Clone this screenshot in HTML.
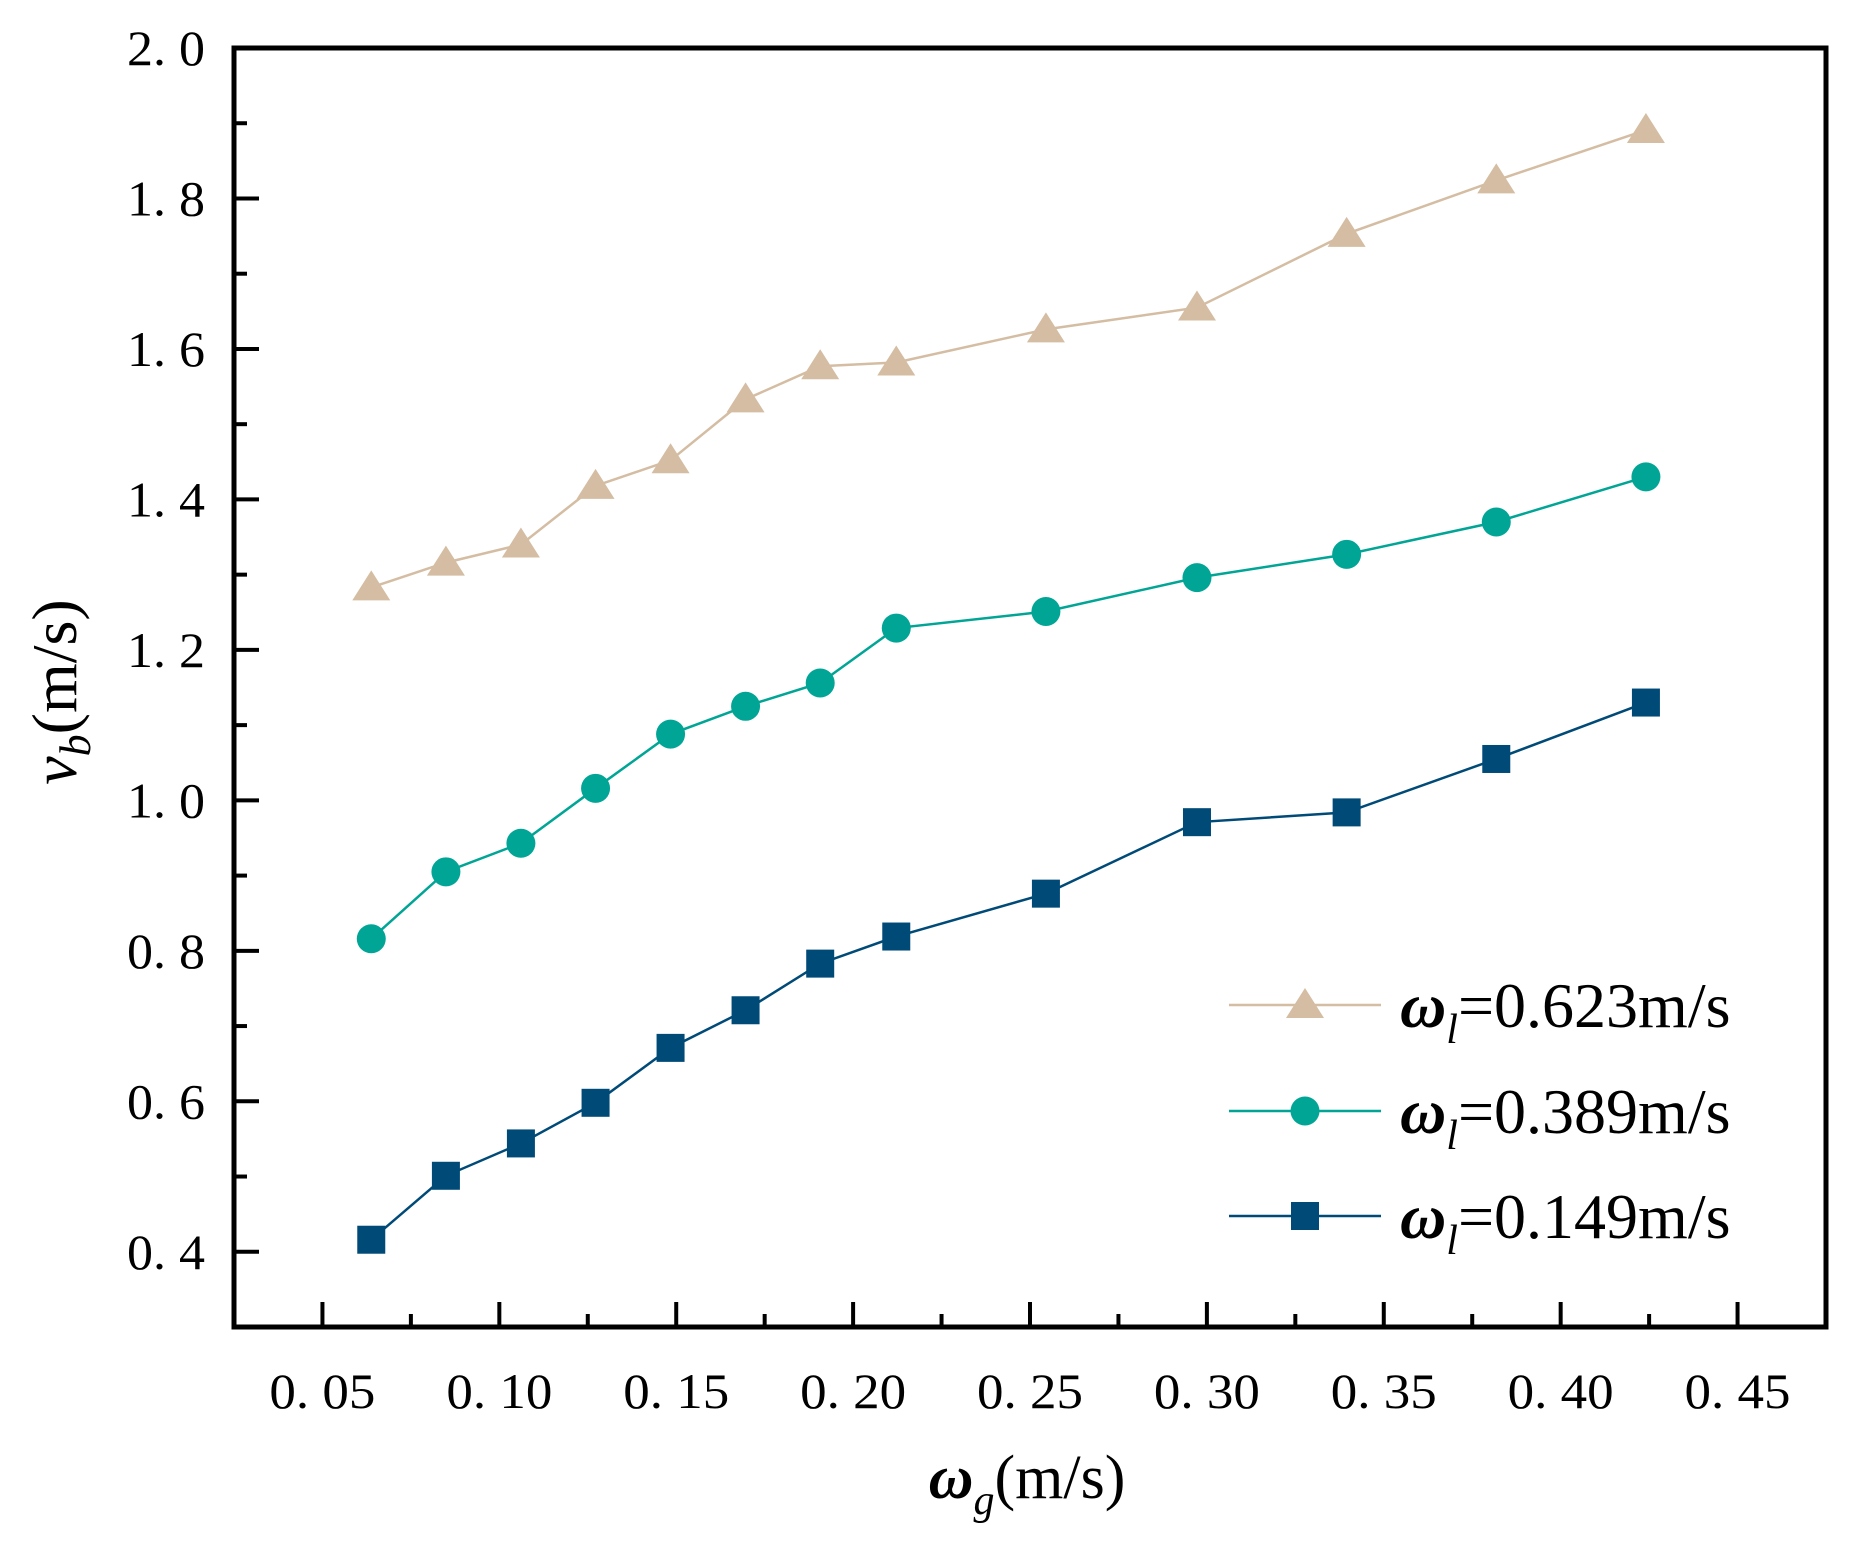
<!DOCTYPE html>
<html><head><meta charset="utf-8"><style>
html,body{margin:0;padding:0;background:#fff;}
svg text{font-family:"Liberation Serif","Noto Serif CJK SC",serif;}
</style></head><body>
<svg id="chart" width="1862" height="1546" xmlns="http://www.w3.org/2000/svg">
</svg>
<script>
const xValues=[0.0638,0.0849,0.1061,0.1272,0.1484,0.1696,0.1907,0.2122,0.2545,0.2972,0.3395,0.3818,0.4241];
const seriesHigh=[1.283,1.316,1.340,1.418,1.452,1.533,1.577,1.582,1.626,1.655,1.753,1.824,1.891];
const seriesMid=[0.816,0.905,0.943,1.016,1.088,1.125,1.156,1.229,1.251,1.296,1.327,1.370,1.430];
const seriesLow=[0.416,0.501,0.544,0.598,0.671,0.721,0.783,0.819,0.876,0.971,0.984,1.055,1.130];
const xTickLabels=["0. 05","0. 10","0. 15","0. 20","0. 25","0. 30","0. 35","0. 40","0. 45"];
const yTickLabels=["0. 4","0. 6","0. 8","1. 0","1. 2","1. 4","1. 6","1. 8","2. 0"];
const legendLabels=["=0.623m/s","=0.389m/s","=0.149m/s"];

const L=234,R=1826,T=48,B=1327,X0=0.025,X1=0.475,Y0=0.3,Y1=2.0;
const sx=v=>L+(v-X0)/(X1-X0)*(R-L);
const sy=v=>B-(v-Y0)/(Y1-Y0)*(B-T);
const NS="http://www.w3.org/2000/svg";
const svg=document.getElementById('chart');
function mk(tag,attrs,parent){const e=document.createElementNS(NS,tag);for(const k in attrs)e.setAttribute(k,attrs[k]);(parent||svg).appendChild(e);return e;}

const frame=mk('rect',{x:L,y:T,width:R-L,height:B-T,fill:'none',stroke:'#000','stroke-width':5});



xTickLabels.forEach((lab,i)=>{
  const v=0.05+i*0.05, x=sx(v);
  const t=mk('line',{x1:x,x2:x,y1:B,y2:B-25,stroke:'#000','stroke-width':4});
  
  
  const tx=mk('text',{x:x,y:1408,'font-size':50,'text-anchor':'middle',textLength:106,lengthAdjust:'spacingAndGlyphs'});
  tx.textContent=lab;
  
  
  if(i<xTickLabels.length-1){const xm=sx(v+0.025);
    const m=mk('line',{x1:xm,x2:xm,y1:B,y2:B-13,stroke:'#000','stroke-width':4});
    
    }
});
yTickLabels.forEach((lab,i)=>{
  const v=0.4+i*0.2, y=sy(v);
  const t=mk('line',{x1:L,x2:L+25,y1:y,y2:y,stroke:'#000','stroke-width':4});
  
  
  const tx=mk('text',{x:205,y:y+17,'font-size':50,'text-anchor':'end',textLength:78,lengthAdjust:'spacingAndGlyphs'});
  tx.textContent=lab;
  
  
  [v-0.1,v+0.1].forEach(mv=>{ if(mv>Y0&&mv<Y1&&(mv<0.35||i<yTickLabels.length-1&&mv>v)){const ym=sy(mv);
    const m=mk('line',{x1:L,x2:L+13,y1:ym,y2:ym,stroke:'#000','stroke-width':4});
    
    }});
});

const xt=mk('text',{x:1027,y:1498,'font-size':62,'text-anchor':'middle'});
xt.innerHTML='<tspan font-style="italic" font-weight="bold">ω</tspan><tspan font-style="italic" font-size="42" dy="16">g</tspan><tspan dy="-16">(m/s)</tspan>';


const yt=mk('text',{x:0,y:0,'font-size':64,'text-anchor':'middle',transform:'translate(76,692) rotate(-90)'});
yt.innerHTML='<tspan font-style="italic">v</tspan><tspan font-style="italic" font-size="44" dy="14">b</tspan><tspan dy="-14">(m/s)</tspan>';



function marker(type,x,y,color,name){
  let e;
  if(type==='tri') e=mk('polygon',{points:`${x},${y-17} ${x-19},${y+13} ${x+19},${y+13}`,fill:color});
  else if(type==='circ') e=mk('circle',{cx:x,cy:y,r:14.5,fill:color});
  else e=mk('rect',{x:x-14,y:y-14,width:28,height:28,fill:color});
  
  
}
const series=[[seriesHigh,'#d4bda2','tri','high'],[seriesMid,'#00a595','circ','mid'],[seriesLow,'#004a78','sq','low']];
series.forEach(([vals,color,type,nm])=>{
  const pl=mk('polyline',{points:vals.map((v,i)=>sx(xValues[i])+','+sy(v)).join(' '),fill:'none',stroke:color,'stroke-width':2.5});
  
  
  vals.forEach((v,i)=>marker(type,sx(xValues[i]),sy(v),color,'marker-'+nm));
});

const ly=[1005,1111,1216];
series.forEach(([vals,color,type,nm],i)=>{
  const l=mk('line',{x1:1229,x2:1381,y1:ly[i],y2:ly[i],stroke:color,'stroke-width':2.5});
  
  
  marker(type,1305,ly[i],color,'legend-marker-'+nm);
  const t=mk('text',{x:1400,y:ly[i]+22,'font-size':64});
  t.innerHTML='<tspan font-style="italic" font-weight="bold">ω</tspan><tspan font-style="italic" font-size="42" dy="16">l</tspan><tspan dy="-16">'+legendLabels[i]+'</tspan>';
  
  
});
</script>
</body></html>
